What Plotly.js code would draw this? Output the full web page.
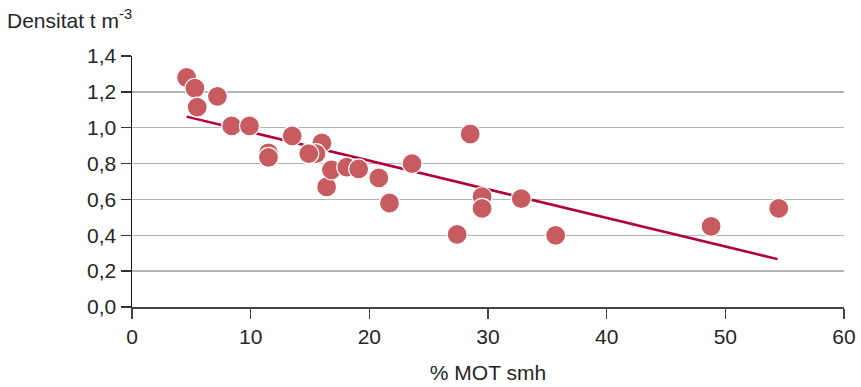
<!DOCTYPE html>
<html>
<head>
<meta charset="utf-8">
<script src="https://cdn.plot.ly/plotly-3.0.1.min.js"></script>
<style>html,body{margin:0;padding:0;background:#fff;}#chart{width:861px;height:387px;}</style>
</head>
<body>
<div id="chart"></div>
<script>
// MOT (% smh) vs density (t m-3)
const motValues = [4.6, 5.3, 5.5, 7.2, 8.4, 9.9, 11.5, 11.5, 13.5, 16.0, 15.5, 14.9, 16.4, 16.8, 18.1, 19.1, 20.8, 21.7, 23.6, 28.5, 27.4, 29.5, 29.5, 32.8, 35.7, 48.8, 54.5];
const densityValues = [1.28, 1.22, 1.115, 1.175, 1.01, 1.01, 0.86, 0.835, 0.955, 0.915, 0.855, 0.855, 0.67, 0.765, 0.78, 0.77, 0.72, 0.58, 0.80, 0.965, 0.405, 0.615, 0.55, 0.605, 0.40, 0.45, 0.55];
const trendX = [4.6, 54.4];
const trendY = [1.062, 0.267];
const xTicks = [0, 10, 20, 30, 40, 50, 60];
const xTickLabels = ['0', '10', '20', '30', '40', '50', '60'];
const yTicks = [0, 0.2, 0.4, 0.6, 0.8, 1.0, 1.2, 1.4];
const yTickLabels = ['0,0', '0,2', '0,4', '0,6', '0,8', '1,0', '1,2', '1,4'];
const xTitle = '% MOT smh';
const yTitle = 'Densitat t m<sup>-3</sup>';

const font = {family: 'Liberation Sans, Arial, sans-serif', size: 21, color: '#262626'};

const data = [
  {x: trendX, y: trendY, mode: 'lines', type: 'scatter', line: {color: '#b1003a', width: 2.5}, hoverinfo: 'skip'},
  {x: motValues, y: densityValues, mode: 'markers', type: 'scatter',
   marker: {size: 20, color: '#c85b60', line: {color: '#ffffff', width: 1.2}}}
];

const layout = {
  width: 861, height: 387,
  margin: {l: 132, r: 17, t: 56, b: 80},
  paper_bgcolor: '#fff', plot_bgcolor: '#fff',
  showlegend: false,
  font: font,
  xaxis: {
    range: [0, 60], tickvals: xTicks, ticktext: xTickLabels,
    showgrid: false, zeroline: false,
    showline: true, linecolor: '#444', linewidth: 2,
    ticks: 'outside', ticklen: 10, tickwidth: 1.5, tickcolor: '#444',
    tickfont: font,
    title: {text: xTitle, font: font, standoff: 18}
  },
  yaxis: {
    range: [0, 1.4], tickvals: yTicks, ticktext: yTickLabels,
    showgrid: true, gridcolor: '#b4b4b4', gridwidth: 1.5,
    zeroline: false,
    showline: true, linecolor: '#111', linewidth: 1.5,
    ticks: 'outside', ticklen: 10, tickwidth: 1.5, tickcolor: '#333',
    tickfont: font
  },
  annotations: [{
    text: yTitle, xref: 'paper', yref: 'paper', x: -0.178, y: 1.0, yshift: 37,
    xanchor: 'left', yanchor: 'middle', showarrow: false, font: font
  }]
};

Plotly.newPlot('chart', data, layout, {displayModeBar: false, staticPlot: true});
</script>
</body>
</html>
